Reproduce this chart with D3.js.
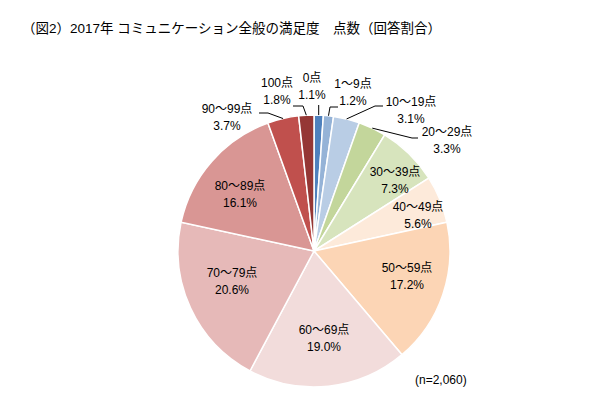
<!DOCTYPE html>
<html>
<head>
<meta charset="utf-8">
<script src="https://cdn.jsdelivr.net/npm/d3@7"></script>
<style>
  html, body { margin: 0; padding: 0; background: #fff; }
  svg text { font-family: "Liberation Sans", Arial, "Noto Sans CJK JP", sans-serif; fill: #000; }
</style>
</head>
<body>
<svg id="chart" width="595" height="399"></svg>
<script>
// data
const categories = ['0点', '1～9点', '10～19点', '20～29点', '30～39点', '40～49点',
  '50～59点', '60～69点', '70～79点', '80～89点', '90～99点', '100点'];
const shares = [1.1, 1.2, 3.1, 3.3, 7.3, 5.6, 17.2, 19.0, 20.6, 16.1, 3.7, 1.8];
const sampleNote = '(n=2,060)';
const title = '（図2）2017年 コミュニケーション全般の満足度　点数（回答割合）';

// styling / layout
const colors = ['#4f81bd', '#95b3d7', '#b9cde5', '#c3d69b', '#d7e4bd', '#fdeada',
  '#fcd5b5', '#f2dcdb', '#e6b9b8', '#d99694', '#c0504d', '#953735'];
const cx = 314, cy = 251, radius = 136;

// label centres relative to pie centre, plus leader-line elbow/end for outside labels
const labelLayout = [
  { pos: [-2, -173], line: [[4.7, -146]] },
  { pos: [39, -167], line: [[16, -144], [24, -144]] },
  { pos: [97, -149], line: [[61, -145], [69, -145]] },
  { pos: [133, -119], line: [[98, -113], [104, -113]] },
  { pos: [81, -79] },
  { pos: [104, -44] },
  { pos: [93, 17] },
  { pos: [10, 79] },
  { pos: [-82, 22] },
  { pos: [-74, -65] },
  { pos: [-87, -142], line: [[-46, -138], [-55, -138]] },
  { pos: [-37, -168], line: [[-11, -145], [-21, -145]] }
];

const svg = d3.select('#chart');

svg.append('text')
  .attr('x', 22)
  .attr('y', 33)
  .style('font-size', '13.5px')
  .text(title);

const data = categories.map((c, i) => ({ label: c, value: shares[i], color: colors[i], layout: labelLayout[i] }));

const pie = d3.pie()
  .value(d => d.value)
  .sort(null);

const arc = d3.arc()
  .innerRadius(0)
  .outerRadius(radius);

const g = svg.append('g').attr('transform', `translate(${cx},${cy})`);

const arcs = pie(data);

g.selectAll('path.slice')
  .data(arcs)
  .enter()
  .append('path')
  .attr('class', 'slice')
  .attr('d', arc)
  .attr('fill', d => d.data.color)
  .attr('stroke', '#fff')
  .attr('stroke-width', 1.5);

// leader lines for small slices
g.selectAll('path.leader')
  .data(arcs.filter(d => d.data.layout.line))
  .enter()
  .append('path')
  .attr('class', 'leader')
  .attr('fill', 'none')
  .attr('stroke', '#000')
  .attr('stroke-width', 1)
  .attr('d', d => {
    const a = (d.startAngle + d.endAngle) / 2;
    const start = [radius * Math.sin(a), -radius * Math.cos(a)];
    return d3.line()([start, ...d.data.layout.line]);
  });

const labels = g.selectAll('g.label')
  .data(arcs)
  .enter()
  .append('g')
  .attr('class', 'label')
  .attr('transform', d => `translate(${d.data.layout.pos[0]},${d.data.layout.pos[1]})`);

labels.append('text')
  .attr('text-anchor', 'middle')
  .attr('dy', '0.35em')
  .style('font-size', '12px')
  .text(d => d.data.label);

labels.append('text')
  .attr('text-anchor', 'middle')
  .attr('y', 16.5)
  .attr('dy', '0.35em')
  .style('font-size', '12px')
  .text(d => d.data.value.toFixed(1) + '%');

svg.append('text')
  .attr('x', 415)
  .attr('y', 384)
  .style('font-size', '12px')
  .text(sampleNote);
</script>
</body>
</html>
